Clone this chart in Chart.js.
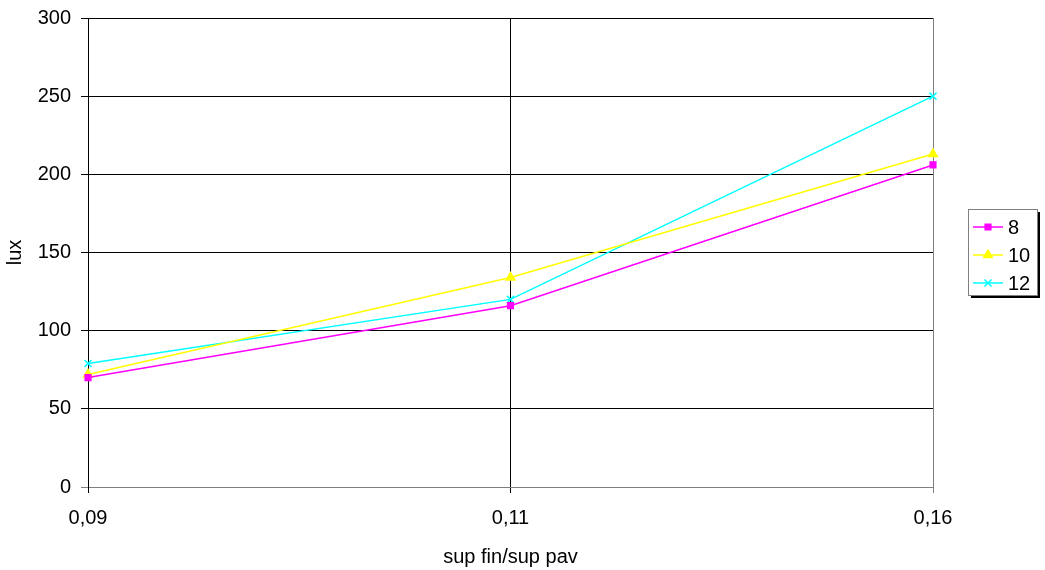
<!DOCTYPE html>
<html>
<head>
<meta charset="utf-8">
<script src="https://cdn.jsdelivr.net/npm/chart.js@4/dist/chart.umd.min.js"></script>
<style>
  html, body { margin: 0; padding: 0; background: #fff; }
  #wrap { width: 1045px; height: 570px; }
</style>
</head>
<body>
<div id="wrap"><canvas id="luxChart" width="1045" height="570"></canvas></div>
<script>
// Data
const categories = ['0,09', '0,11', '0,16'];
const seriesNames = ['8', '10', '12'];
const lux8 = [70, 116, 206];
const lux10 = [72, 134, 213];
const lux12 = [79, 120, 250];
const yTicks = [0, 50, 100, 150, 200, 250, 300];

const FONT = "'Liberation Sans', Arial, sans-serif";

// legend drawn like the old spreadsheet one (box with shadow, line + marker)
const boxLegend = {
  id: 'boxLegend',
  afterDraw(chart) {
    const ctx = chart.ctx;
    const x = 968, y = 209, w = 69, h = 86;
    ctx.save();
    ctx.fillStyle = '#000';
    ctx.fillRect(x + 3, y + 3, w, h);
    ctx.fillStyle = '#fff';
    ctx.fillRect(x, y, w, h);
    ctx.strokeStyle = '#808080';
    ctx.lineWidth = 1;
    ctx.strokeRect(x + 0.5, y + 0.5, w, h);
    const rows = [227, 255, 283];
    chart.data.datasets.forEach((ds, i) => {
      const cy = rows[i];
      ctx.strokeStyle = ds.borderColor;
      ctx.lineWidth = 1.5;
      ctx.beginPath();
      ctx.moveTo(973, cy);
      ctx.lineTo(1003, cy);
      ctx.stroke();
      ctx.fillStyle = ds.borderColor;
      ctx.strokeStyle = ds.borderColor;
      Chart.helpers.drawPoint(ctx, {
        pointStyle: ds.pointStyle,
        radius: ds.pointRadius,
        borderWidth: 1.5
      }, 988, cy);
      ctx.fillStyle = '#000';
      ctx.font = '20px ' + FONT;
      ctx.textBaseline = 'middle';
      ctx.textAlign = 'left';
      ctx.fillText(ds.label, 1008, cy + 1);
    });
    ctx.restore();
  }
};

function series(label, data, color, style, r) {
  return {
    label: label,
    data: data,
    borderColor: color,
    backgroundColor: color,
    pointBackgroundColor: color,
    pointBorderColor: color,
    borderWidth: 1.5,
    pointStyle: style,
    pointRadius: r,
    pointBorderWidth: 1.5,
    tension: 0
  };
}

new Chart(document.getElementById('luxChart').getContext('2d'), {
  type: 'line',
  data: {
    labels: categories,
    datasets: [
      series(seriesNames[0], lux8, '#FF00FF', 'rect', 4),
      series(seriesNames[1], lux10, '#FFFF00', 'triangle', 5),
      series(seriesNames[2], lux12, '#00FFFF', 'crossRot', 5)
    ]
  },
  options: {
    responsive: false,
    animation: false,
    layout: { padding: { top: 18, right: 112, bottom: 0, left: 0 } },
    plugins: {
      legend: { display: false },
      tooltip: { enabled: false }
    },
    scales: {
      x: {
        type: 'category',
        offset: false,
        afterFit(scale) {
          scale.height = 83;
          scale.paddingLeft = 0;
          scale.paddingRight = 0;
        },
        grid: {
          color: (c) => c.index === categories.length - 1 ? '#808080' : '#000',
          lineWidth: 1,
          tickLength: 6
        },
        border: { color: '#808080' },
        ticks: {
          color: '#000',
          font: { family: FONT, size: 20 },
          padding: 13,
          maxRotation: 0
        },
        title: {
          display: true,
          text: 'sup fin/sup pav',
          color: '#000',
          font: { family: FONT, size: 20 },
          padding: { top: 0, bottom: 1 }
        }
      },
      y: {
        min: 0,
        max: 300,
        afterFit(scale) {
          scale.width = 88;
          scale.paddingTop = 0;
          scale.paddingBottom = 0;
        },
        afterBuildTicks(scale) { scale.ticks = yTicks.map(v => ({ value: v })); },
        grid: {
          color: (c) => c.index === 0 ? '#808080' : '#000',
          lineWidth: 1,
          tickLength: 7
        },
        border: { color: '#000' },
        ticks: {
          color: '#000',
          font: { family: FONT, size: 20 },
          padding: 10
        },
        title: {
          display: true,
          text: 'lux',
          color: '#000',
          font: { family: FONT, size: 20 },
          padding: { top: 3, bottom: 0 }
        }
      }
    }
  },
  plugins: [boxLegend]
});
</script>
</body>
</html>
